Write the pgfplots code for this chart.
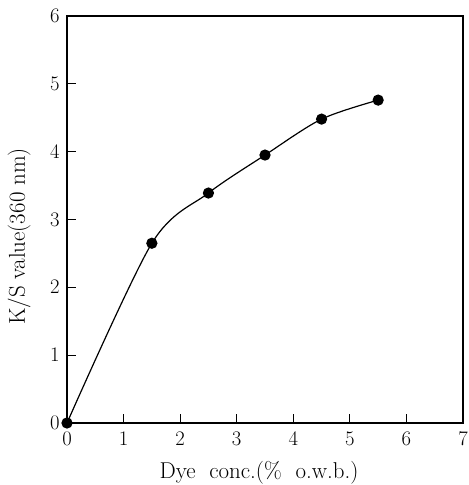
\documentclass[border=0pt]{standalone}
\usepackage{pgfplots}
\pgfplotsset{compat=1.18}

\begin{document}
\begin{tikzpicture}
\begin{axis}[
  scale only axis, width=396bp, height=407bp,
  xmin=0, xmax=7, ymin=0, ymax=6,
  xtick={0,...,7}, ytick={0,...,6},
  tick pos=left, tick align=inside, major tick length=9bp,
  axis line style={line width=1.3pt}, tick style={line width=0.9pt, black},
  tick label style={font=\fontsize{21}{25}\selectfont},
  label style={font=\fontsize{23}{27}\selectfont},
  xticklabel style={yshift=-6bp},
  yticklabel style={xshift=-4bp},
  xlabel={Dye\hspace{0.3em} conc.(\%\hspace{0.3em} o.w.b.)},
  ylabel={K/S value(360 nm)},
  xlabel style={at={([xshift=-6bp,yshift=-55bp]axis description cs:0.5,0)}, anchor=base},
  ylabel style={at={([xshift=-42bp,yshift=-17bp]axis description cs:0,0.5)}, anchor=base},
  clip=false]
\addplot[black, line width=1.2pt, smooth, tension=0.5,
  mark=*, mark size=5bp] coordinates {
  (0,0) (1.5,2.65) (2.5,3.39) (3.5,3.95) (4.5,4.48) (5.5,4.76)};
\end{axis}
\pgfresetboundingbox
\useasboundingbox ([xshift=-67bp,yshift=-62bp]current axis.south west)
  rectangle ([xshift=6bp,yshift=16bp]current axis.north east);
\end{tikzpicture}
\end{document}
